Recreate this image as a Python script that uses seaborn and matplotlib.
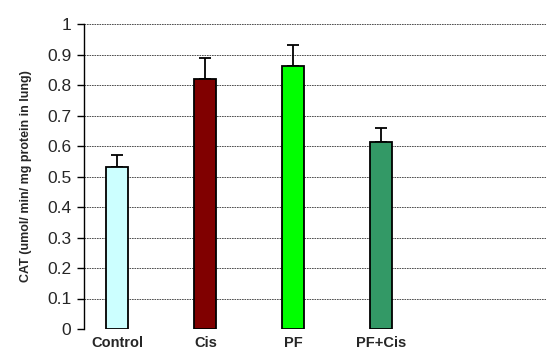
import matplotlib
matplotlib.use("Agg")
import matplotlib.pyplot as plt
import seaborn as sns
import pandas as pd
import numpy as np

categories = ["Control", "Cis", "PF", "PF+Cis"]
values = [0.53, 0.82, 0.862, 0.612]
errors = [0.04, 0.067, 0.07, 0.047]
colors = ["#CCFFFF", "#800000", "#00FF00", "#339966"]
yticks = [0, 0.1, 0.2, 0.3, 0.4, 0.5, 0.6, 0.7, 0.8, 0.9, 1]
ytick_labels = ["0", "0.1", "0.2", "0.3", "0.4", "0.5", "0.6", "0.7", "0.8", "0.9", "1"]

sns.set_style("white")
plt.rcParams['font.family'] = ['Liberation Sans', 'DejaVu Sans']

df = pd.DataFrame({"group": categories, "value": values})

fig = plt.figure(figsize=(5.46, 3.51), dpi=100)
ax = fig.add_axes([84/546, 1-329/351, 1-84/546, (329-24)/351])

for y in yticks:
    ax.axhline(y, color="#333333", linestyle=(0, (2, 1)), linewidth=0.6, zorder=0)

sns.barplot(data=df, x="group", y="value", hue="group", palette=colors,
            order=categories, hue_order=categories, legend=False, saturation=1,
            width=0.25, edgecolor="black", linewidth=1.3, ax=ax, zorder=2)

x = np.arange(len(categories))
ax.errorbar(x, values, yerr=[np.zeros(len(errors)), errors], fmt="none",
            ecolor="black", elinewidth=1.3, capsize=4, capthick=1.3, zorder=1)

ax.set_xlim(-0.38, 4.87)
ax.set_ylim(0, 1)
ax.set_yticks(yticks)
ax.set_yticklabels(ytick_labels, fontsize=12.5)
ax.tick_params(axis="y", direction="out", length=5, width=1, color="black", pad=4, left=True)
ax.tick_params(axis="x", length=0, pad=5)
for lab in ax.get_xticklabels():
    lab.set_fontweight("bold")
    lab.set_fontsize(10.5)
ax.set_xlabel("")
ax.set_ylabel("CAT (umol/ min/ mg protein in lung)", fontsize=9, fontweight="bold", labelpad=11)

for s in ["top", "right", "bottom"]:
    ax.spines[s].set_visible(False)
ax.spines["left"].set_color("black")
ax.spines["left"].set_linewidth(1)

fig.savefig("out.png", dpi=100)
